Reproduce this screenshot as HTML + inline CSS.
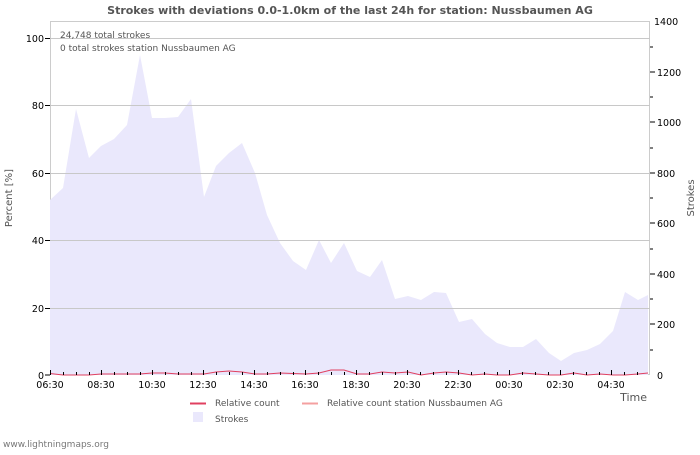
<!DOCTYPE html>
<html><head><meta charset="utf-8"><style>
body{margin:0;background:#fff;}
svg text{font-family:"DejaVu Sans","Liberation Sans",sans-serif;}
</style></head><body>
<svg width="700" height="450" viewBox="0 0 700 450" xmlns="http://www.w3.org/2000/svg">
<rect width="700" height="450" fill="#fff"/>
<text x="350" y="14" text-anchor="middle" font-size="11" font-weight="bold" fill="#555">Strokes with deviations 0.0-1.0km of the last 24h for station: Nussbaumen AG</text>
<rect x="50.5" y="21.5" width="599" height="353" fill="#fff" stroke="#ccc"/>
<polygon fill="#eae8fc" points="50,375 50,200 63,188 76,109 89,158 101,146 114,139 127,125 140,55 152,118 165,118 178,117 191,99 204,197 216,166 229,153 242,143 255,173 267,215 280,243 293,261 306,270 319,240 331,263 344,243 357,271 370,277 382,260 395,299 408,296 421,300 434,292 446,293 459,322 472,319 485,334 497,343 510,347 523,347 536,339 549,353 561,361 574,353 587,350 600,344 613,331 625,292 638,300 648,295 648,375"/>
<g stroke="#c8c8c8" stroke-width="1">
<line x1="50" y1="38.5" x2="650" y2="38.5"/>
<line x1="50" y1="105.5" x2="650" y2="105.5"/>
<line x1="50" y1="173.5" x2="650" y2="173.5"/>
<line x1="50" y1="240.5" x2="650" y2="240.5"/>
<line x1="50" y1="308.5" x2="650" y2="308.5"/>
</g>
<g stroke="#000" stroke-width="1">
<line x1="45" y1="38.5" x2="50" y2="38.5"/><line x1="45" y1="105.5" x2="50" y2="105.5"/><line x1="45" y1="173.5" x2="50" y2="173.5"/><line x1="45" y1="240.5" x2="50" y2="240.5"/><line x1="45" y1="308.5" x2="50" y2="308.5"/><line x1="45" y1="375" x2="50" y2="375"/>
<line x1="650" y1="72" x2="655" y2="72"/><line x1="650" y1="122" x2="655" y2="122"/><line x1="650" y1="173" x2="655" y2="173"/><line x1="650" y1="223" x2="655" y2="223"/><line x1="650" y1="274" x2="655" y2="274"/><line x1="650" y1="324" x2="655" y2="324"/>
<line x1="650" y1="47" x2="653" y2="47"/><line x1="650" y1="97" x2="653" y2="97"/><line x1="650" y1="148" x2="653" y2="148"/><line x1="650" y1="198" x2="653" y2="198"/><line x1="650" y1="249" x2="653" y2="249"/><line x1="650" y1="299" x2="653" y2="299"/><line x1="650" y1="350" x2="653" y2="350"/>
</g>
<g stroke="#000" stroke-width="1" id="xt"></g>
<polyline fill="none" stroke="#e04060" stroke-width="1" points="50,373.5 63,375 76,375 89,375 101,374 114,374 127,374 140,374 152,373 165,373 178,374 191,374 204,374 216,372 229,371 242,372 255,374 267,374 280,373 293,373.5 306,374 319,373 331,370 344,370 357,374 370,374 382,372 395,373 408,372 421,375 434,373 446,372 459,373 472,375 485,374 497,375 510,375 523,373 536,374 549,375 561,375 574,373 587,375 600,374 613,375 625,375 638,374 648,373"/>
<g stroke="#000">
<path d="M50.5 370v5M63.5 372v3M76.5 372v3M89.5 372v3M101.5 370v5M114.5 372v3M127.5 372v3M140.5 372v3M152.5 370v5M165.5 372v3M178.5 372v3M191.5 372v3M203.5 370v5M216.5 372v3M229.5 372v3M242.5 372v3M254.5 370v5M267.5 372v3M280.5 372v3M293.5 372v3M305.5 370v5M318.5 372v3M331.5 372v3M344.5 372v3M356.5 370v5M369.5 372v3M382.5 372v3M395.5 372v3M407.5 370v5M420.5 372v3M433.5 372v3M446.5 372v3M458.5 370v5M471.5 372v3M484.5 372v3M497.5 372v3M509.5 370v5M522.5 372v3M535.5 372v3M548.5 372v3M560.5 370v5M573.5 372v3M586.5 372v3M599.5 372v3M611.5 370v5M624.5 372v3M637.5 372v3"/>
</g>
<g font-size="9.5" fill="#000" text-anchor="end">
<text x="44" y="42">100</text><text x="44" y="109">80</text><text x="44" y="177">60</text><text x="44" y="244">40</text><text x="44" y="312">20</text><text x="44" y="379">0</text>
</g>
<g font-size="9.5" fill="#000">
<text x="654" y="25">1400</text><text x="657" y="76">1200</text><text x="657" y="126">1000</text><text x="657" y="177">800</text><text x="657" y="227">600</text><text x="657" y="278">400</text><text x="657" y="328">200</text><text x="657" y="379">0</text>
</g>
<g font-size="9.5" fill="#000" text-anchor="middle">
<text x="50" y="388">06:30</text><text x="101" y="388">08:30</text><text x="152" y="388">10:30</text><text x="203" y="388">12:30</text><text x="254" y="388">14:30</text><text x="305" y="388">16:30</text><text x="356" y="388">18:30</text><text x="407" y="388">20:30</text><text x="458" y="388">22:30</text><text x="509" y="388">00:30</text><text x="560" y="388">02:30</text><text x="611" y="388">04:30</text>
</g>
<text x="60" y="38" font-size="9" fill="#555">24,748 total strokes</text>
<text x="60" y="51" font-size="9" fill="#555">0 total strokes station Nussbaumen AG</text>
<text transform="translate(12,198) rotate(-90)" text-anchor="middle" font-size="10" fill="#555">Percent   [%]</text>
<text transform="translate(694,198) rotate(-90)" text-anchor="middle" font-size="10" fill="#555">Strokes</text>
<text x="647" y="401" text-anchor="end" font-size="11" fill="#555">Time</text>
<line x1="190" y1="403.5" x2="206" y2="403.5" stroke="#e04060" stroke-width="2"/>
<text x="215" y="406" font-size="9" fill="#555">Relative count</text>
<line x1="302" y1="403.5" x2="318" y2="403.5" stroke="#f4a0a0" stroke-width="2"/>
<text x="327" y="406" font-size="9" fill="#555">Relative count station Nussbaumen AG</text>
<rect x="193" y="412" width="10" height="10" fill="#eae8fc"/>
<text x="215" y="422" font-size="9" fill="#555">Strokes</text>
<text x="3" y="447" font-size="9" fill="#777">www.lightningmaps.org</text>
</svg>
</body></html>
